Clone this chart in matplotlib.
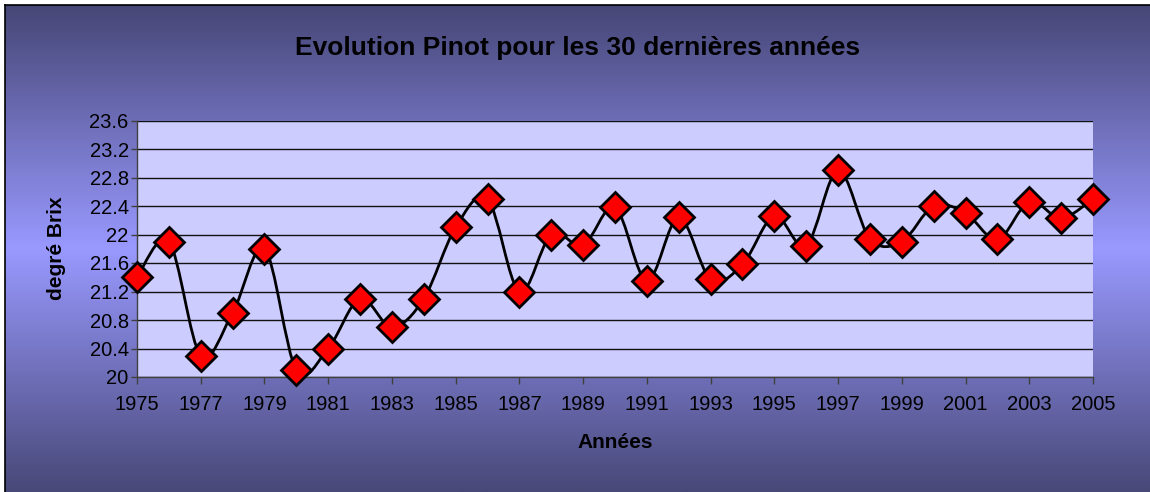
import numpy as np
import matplotlib
matplotlib.use('Agg')
import matplotlib.pyplot as plt
from matplotlib.path import Path
from matplotlib.patches import PathPatch
from matplotlib.lines import Line2D

plt.rcParams['font.family'] = ['Liberation Sans', 'DejaVu Sans']

# data
years = list(range(1975, 2006))
brix = [21.4, 21.9, 20.3, 20.9, 21.8, 20.1, 20.4, 21.1, 20.7, 21.1,
        22.1, 22.5, 21.2, 22.0, 21.85, 22.38, 21.35, 22.24, 21.37, 21.58,
        22.26, 21.84, 22.9, 21.94, 21.9, 22.4, 22.3, 21.93, 22.46, 22.23,
        22.5]
yticks = [20, 20.4, 20.8, 21.2, 21.6, 22, 22.4, 22.8, 23.2, 23.6]
xticks = list(range(1975, 2006, 2))

title = 'Evolution Pinot pour les 30 dernières années'
xlabel = 'Années'
ylabel = 'degré Brix'

W, H = 1150, 492
fig = plt.figure(figsize=(W / 100, H / 100), dpi=100)
fig.patch.set_facecolor('white')

# background gradient (dark top/bottom, light middle)
bg = fig.add_axes([5 / W, 0, 1 - 5 / W, 1 - 5 / H])
bg.set_axis_off()
top = np.array([70, 70, 118]) / 255
mid = np.array([153, 153, 255]) / 255
bot = np.array([72, 72, 120]) / 255
t = np.linspace(0, 1, 400)[:, None]
grad = np.where(t < 0.5, top + (mid - top) * (t / 0.5), mid + (bot - mid) * ((t - 0.5) / 0.5))
bg.imshow(grad[:, None, :], aspect='auto', extent=[0, 1, 0, 1], origin='upper')
bg.set_xlim(0, 1)
bg.set_ylim(0, 1)
# chart border (left and top visible)
fig.add_artist(Line2D([5 / W, 5 / W], [0, 1 - 5 / H], color='black', lw=1.2))
fig.add_artist(Line2D([5 / W, 1], [1 - 5 / H, 1 - 5 / H], color='black', lw=1.2))

ax = fig.add_axes([137 / W, 1 - 377 / H, (1093 - 137) / W, (377 - 120.5) / H])
ax.set_facecolor('#ccccff')
ax.set_xlim(1975, 2005)
ax.set_ylim(20, 23.6)

# smoothed line (cubic bezier through the points, like Excel smoothing)
xs = np.array(years, dtype=float)
ys = np.array(brix)
n = len(xs)
verts = [(xs[0], ys[0])]
codes = [Path.MOVETO]
for i in range(n - 1):
    p0 = np.array([xs[max(i - 1, 0)], ys[max(i - 1, 0)]])
    p1 = np.array([xs[i], ys[i]])
    p2 = np.array([xs[i + 1], ys[i + 1]])
    p3 = np.array([xs[min(i + 2, n - 1)], ys[min(i + 2, n - 1)]])
    c1 = p1 + (p2 - p0) / 6
    c2 = p2 - (p3 - p1) / 6
    verts += [tuple(c1), tuple(c2), tuple(p2)]
    codes += [Path.CURVE4] * 3
ax.add_patch(PathPatch(Path(verts, codes), facecolor='none', edgecolor='black', lw=2, zorder=3))

ax.plot(years, brix, linestyle='none', marker='D', markersize=15,
        markerfacecolor='#ff0000', markeredgecolor='black', markeredgewidth=2,
        clip_on=False, zorder=4)

ax.set_yticks(yticks)
ax.set_yticklabels(['%g' % v for v in yticks])
ax.set_xticks(xticks)
ax.set_xticklabels([str(v) for v in xticks])
ax.yaxis.grid(True, color='#111111', lw=1)
ax.set_axisbelow(True)
ax.tick_params(axis='both', labelsize=14.5, colors='#404040', labelcolor='black', direction='out')
ax.tick_params(axis='x', length=5, width=1, pad=8)
ax.tick_params(axis='y', length=4.5, width=1, pad=1.5)
for side in ['top', 'right']:
    ax.spines[side].set_visible(False)
for side in ['left', 'bottom']:
    ax.spines[side].set_color('#404040')
    ax.spines[side].set_linewidth(1)

fig.text(578 / W, 1 - 48 / H, title, ha='center', va='center', fontsize=19, fontweight='bold')
fig.text(615 / W, 1 - 443 / H, xlabel, ha='center', va='center', fontsize=15, fontweight='bold')
fig.text(56 / W, 1 - 248.5 / H, ylabel, ha='center', va='center', rotation=90, fontsize=15, fontweight='bold')

fig.savefig('out.png', dpi=100)
